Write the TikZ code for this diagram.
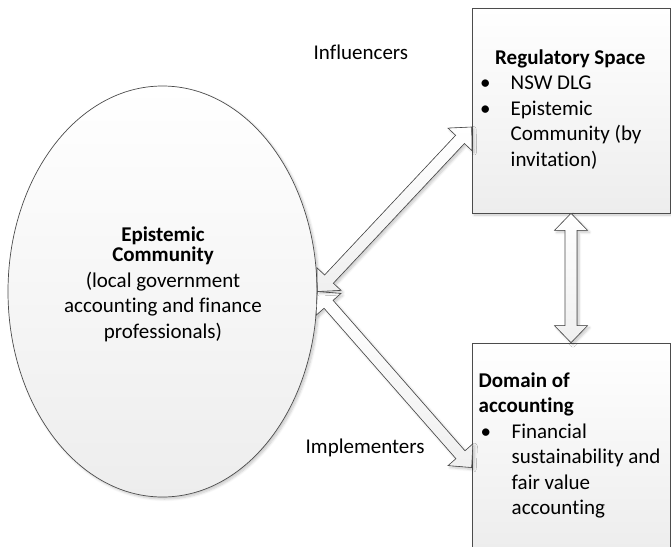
\documentclass[tikz,border=0pt]{standalone}
\usepackage{fontspec}
\setmainfont{Carlito}[Ligatures=NoCommon]
\usetikzlibrary{shapes.geometric, calc, shadows.blur}

\tikzset{
  softshadow/.style={blur shadow={shadow xshift=2pt, shadow yshift=-2pt,
      shadow blur radius=2.5pt, shadow blur steps=6, shadow opacity=22}},
  shapebox/.style={draw=black!70, line width=0.7pt, top color=white,
      bottom color=black!7, inner sep=0pt, softshadow},
  arrowbody/.style={draw=black!70, line width=0.6pt, top color=white,
      bottom color=black!6, line join=miter, softshadow},
  labeltext/.style={font=\fontsize{21}{25.5}\selectfont, inner sep=0pt},
}

% block arrow with a head at both ends, #1 -> #2
\newcommand{\twowayarrow}[2]{%
  \path ($(#1)!17pt!(#2)$) coordinate (hb1)
        ($(#2)!17pt!(#1)$) coordinate (hb2);
  \filldraw[arrowbody] (#1)
    -- ($(hb1)!16.5pt!90:(#2)$) -- ($(hb1)!6pt!90:(#2)$)
    -- ($(hb2)!6pt!-90:(#1)$) -- ($(hb2)!16.5pt!-90:(#1)$)
    -- (#2)
    -- ($(hb2)!16.5pt!90:(#1)$) -- ($(hb2)!6pt!90:(#1)$)
    -- ($(hb1)!6pt!-90:(#2)$) -- ($(hb1)!16.5pt!-90:(#2)$)
    -- cycle;
}
\newcommand{\itembullet}[1]{\makebox[#1][l]{\textbullet}}

\begin{document}
\begin{tikzpicture}[x=1pt, y=-1pt]
    \useasboundingbox (0,0) rectangle (671,546);

    % Shapes
    \node[shapebox, ellipse, minimum width=309pt, minimum height=411pt] (eco) at (162.5,291.5) {};
    \node[shapebox, minimum width=198pt, minimum height=205pt] (reg) at (571,110.5) {};
    \node[shapebox, minimum width=198pt, minimum height=205pt] (dom) at (571,445.5) {};

    % Arrows between the shapes
    \coordinate (infl end) at ([yshift=-16.5pt]reg.west);
    \coordinate (impl end) at ([yshift=-22pt]dom.west);
    \twowayarrow{eco.east}{impl end}
    \twowayarrow{eco.east}{infl end}
    \twowayarrow{reg.south}{dom.north}

    % Texts
    \node[labeltext, align=center, anchor=north] (ecotext) at (163,226.5)
        {\textbf{Epistemic}\\[-5pt]\textbf{Community}\\(local government\\
         accounting and finance\\professionals)};
    \node[labeltext, align=left, anchor=north west] (regtext) at (480,49.5)
        {\hspace*{15pt}\textbf{Regulatory Space}\\
         \itembullet{30.5pt}NSW DLG\\
         \itembullet{30.5pt}Epistemic\\
         \hspace*{30.5pt}Community (by\\
         \hspace*{30.5pt}invitation)};
    \node[labeltext, align=left, anchor=north west] (domtext) at (478.5,372.5)
        {\textbf{Domain of}\\
         \textbf{accounting}\\
         \hspace*{2pt}\itembullet{31pt}Financial\\
         \hspace*{33pt}sustainability and\\
         \hspace*{33pt}fair value\\
         \hspace*{33pt}accounting};

    % Arrow labels
    \node[labeltext, anchor=base west] (infl) at (313.5,59) {Influencers};
    \node[labeltext, anchor=base west] (impl) at (305.5,453) {Implementers};

\end{tikzpicture}
\end{document}
